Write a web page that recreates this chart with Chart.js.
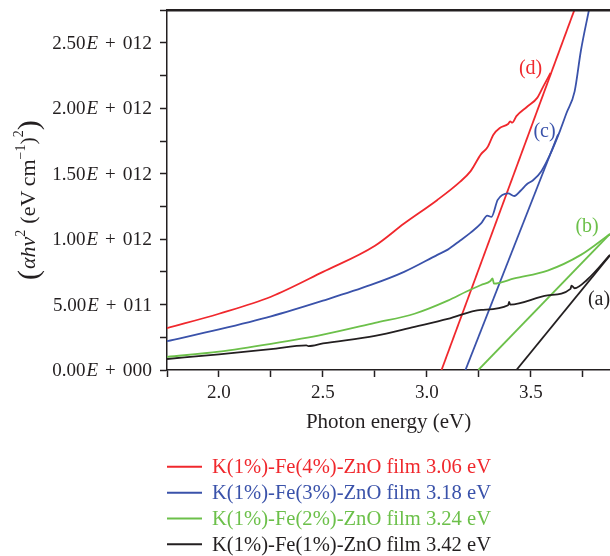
<!DOCTYPE html>
<html lang="en">
<head>
    <meta charset="UTF-8">
    <title>Photon energy plot</title>
    <script src="https://cdn.jsdelivr.net/npm/chart.js@4.4.0/dist/chart.umd.min.js"></script>
    <style>
        body {
            margin: 0;
            background: #ffffff;
        }
        .chart-box {
            position: relative;
            width: 610px;
            height: 556px;
        }
    </style>
</head>
<body>
    <div class="chart-box">
        <canvas id="gapChart"></canvas>
    </div>

    <script>
        // y values are in units of 1e12 (eV cm^-1)^2
        const energyD = [1.75, 2.0, 2.25, 2.5, 2.75, 2.89, 3.05, 3.16, 3.21, 3.26, 3.29, 3.32, 3.35, 3.39, 3.40, 3.41, 3.43, 3.48, 3.53, 3.56, 3.594];
        const valueD  = [0.32, 0.43, 0.56, 0.75, 0.95, 1.12, 1.30, 1.44, 1.52, 1.65, 1.70, 1.80, 1.85, 1.88, 1.90, 1.89, 1.94, 2.01, 2.08, 2.17, 2.27];

        const energyC = [1.75, 2.0, 2.25, 2.5, 2.73, 2.89, 3.05, 3.10, 3.16, 3.21, 3.26, 3.29, 3.31, 3.34, 3.39, 3.42, 3.45, 3.48, 3.51, 3.55, 3.59, 3.64, 3.67, 3.71, 3.74, 3.78];
        const valueC  = [0.22, 0.31, 0.41, 0.53, 0.65, 0.75, 0.88, 0.92, 0.99, 1.05, 1.12, 1.18, 1.17, 1.30, 1.35, 1.33, 1.37, 1.42, 1.45, 1.52, 1.64, 1.83, 1.96, 2.13, 2.44, 2.76];

        const energyB = [1.75, 2.0, 2.25, 2.5, 2.75, 2.94, 3.10, 3.19, 3.26, 3.305, 3.315, 3.322, 3.42, 3.58, 3.74, 3.88];
        const valueB  = [0.10, 0.14, 0.20, 0.27, 0.36, 0.43, 0.53, 0.60, 0.65, 0.68, 0.70, 0.66, 0.70, 0.76, 0.88, 1.04];

        const energyA = [1.75, 2.0, 2.25, 2.42, 2.43, 2.5, 2.75, 2.94, 3.10, 3.26, 3.39, 3.395, 3.40, 3.58, 3.69, 3.695, 3.71, 3.77, 3.88];
        const valueA  = [0.084, 0.12, 0.16, 0.188, 0.183, 0.203, 0.26, 0.33, 0.39, 0.46, 0.495, 0.52, 0.50, 0.57, 0.62, 0.645, 0.625, 0.69, 0.88];

        // linear fits (band gap extrapolation)
        const fitEnergyD = [3.07, 3.72];
        const fitValueD  = [0, 2.80];
        const fitEnergyC = [3.185, 3.63];
        const fitValueC  = [0, 1.80];
        const fitEnergyB = [3.247, 3.88];
        const fitValueB  = [0, 1.04];
        const fitEnergyA = [3.43, 3.88];
        const fitValueA  = [0, 0.877];

        const seriesNames = [
            'K(1%)-Fe(4%)-ZnO film 3.06 eV',
            'K(1%)-Fe(3%)-ZnO film 3.18 eV',
            'K(1%)-Fe(2%)-ZnO film 3.24 eV',
            'K(1%)-Fe(1%)-ZnO film 3.42 eV'
        ];
        const seriesColors = ['#f0282d', '#3a52aa', '#6cc04a', '#231f20'];
        const curveTags = ['(d)', '(c)', '(b)', '(a)'];
        const tagEnergy = [3.498, 3.565, 3.77, 3.827];
        const tagValue  = [2.30, 1.824, 1.098, 0.539];

        const yTickValues = [0, 0.5, 1.0, 1.5, 2.0, 2.5];
        const yTickLabels = ['0.00E + 000', '5.00E + 011', '1.00E + 012', '1.50E + 012', '2.00E + 012', '2.50E + 012'];
        const xTickValues = [2.0, 2.5, 3.0, 3.5];
        const xTickLabels = ['2.0', '2.5', '3.0', '3.5'];

        const SERIF = "'Liberation Serif', 'DejaVu Serif', serif";
        const INK = '#231f20';

        function pairs(xs, ys) {
            return xs.map((x, i) => ({ x: x, y: ys[i] }));
        }

        function curve(xs, ys, color) {
            return {
                data: pairs(xs, ys),
                borderColor: color,
                borderWidth: 1.8,
                pointRadius: 0,
                cubicInterpolationMode: 'monotone',
                fill: false
            };
        }

        function fitLine(xs, ys, color) {
            return {
                data: pairs(xs, ys),
                borderColor: color,
                borderWidth: 1.8,
                pointRadius: 0,
                tension: 0,
                fill: false
            };
        }

        const datasets = [
            curve(energyD, valueD, seriesColors[0]),
            curve(energyC, valueC, seriesColors[1]),
            curve(energyB, valueB, seriesColors[2]),
            curve(energyA, valueA, seriesColors[3]),
            fitLine(fitEnergyD, fitValueD, seriesColors[0]),
            fitLine(fitEnergyC, fitValueC, seriesColors[1]),
            fitLine(fitEnergyB, fitValueB, seriesColors[2]),
            fitLine(fitEnergyA, fitValueA, seriesColors[3])
        ];

        // draws text pieces one after another (for italics / superscripts)
        function drawPieces(ctx, pieces, x, y) {
            let cx = x;
            pieces.forEach(p => {
                ctx.font = p.font;
                ctx.fillText(p.text, cx, y + (p.dy || 0));
                cx += ctx.measureText(p.text).width + (p.gap || 0);
            });
            return cx;
        }

        function piecesWidth(ctx, pieces) {
            let w = 0;
            pieces.forEach(p => {
                ctx.font = p.font;
                w += ctx.measureText(p.text).width + (p.gap || 0);
            });
            return w;
        }

        const decorations = {
            id: 'decorations',
            afterDraw(chart) {
                const ctx = chart.ctx;
                const area = chart.chartArea;
                const xs = chart.scales.x;
                const ys = chart.scales.y;
                ctx.save();

                // top frame line
                ctx.strokeStyle = INK;
                ctx.lineWidth = 2.5;
                ctx.beginPath();
                ctx.moveTo(area.left - 1, area.top);
                ctx.lineTo(area.right, area.top);
                ctx.stroke();

                ctx.fillStyle = INK;
                ctx.textBaseline = 'middle';
                ctx.textAlign = 'left';

                // y tick labels with italic E
                yTickValues.forEach((v, i) => {
                    const parts = yTickLabels[i].split('E + ');
                    const pieces = [
                        { text: parts[0], font: '19px ' + SERIF, gap: 1 },
                        { text: 'E', font: 'italic 19px ' + SERIF, gap: 7 },
                        { text: '+', font: '19px ' + SERIF, gap: 7 },
                        { text: parts[1], font: '19.5px ' + SERIF }
                    ];
                    const w = piecesWidth(ctx, pieces);
                    drawPieces(ctx, pieces, area.left - 15 - w, ys.getPixelForValue(v) + 1);
                });

                // y axis title, rotated
                ctx.save();
                ctx.translate(35, 280);
                ctx.rotate(-Math.PI / 2);
                ctx.textBaseline = 'alphabetic';
                drawPieces(ctx, [
                    { text: '(', font: '30px ' + SERIF, dy: 3, gap: 1 },
                    { text: 'αhν', font: 'italic 22px ' + SERIF },
                    { text: '2', font: '14px ' + SERIF, dy: -10, gap: 6 },
                    { text: '(eV\u2009cm', font: '22px ' + SERIF },
                    { text: '\u22121', font: '14px ' + SERIF, dy: -10 },
                    { text: ')', font: '22px ' + SERIF },
                    { text: '2', font: '14px ' + SERIF, dy: -12 },
                    { text: ')', font: '30px ' + SERIF, dy: 3 }
                ], 0, 0);
                ctx.restore();

                // x axis title
                ctx.textAlign = 'center';
                ctx.textBaseline = 'alphabetic';
                ctx.font = '21px ' + SERIF;
                ctx.fillText('Photon energy (eV)', (area.left + area.right) / 2, 428);

                // curve tags
                ctx.textBaseline = 'middle';
                ctx.font = '20px ' + SERIF;
                curveTags.forEach((t, i) => {
                    ctx.fillStyle = seriesColors[i];
                    ctx.fillText(t, xs.getPixelForValue(tagEnergy[i]), ys.getPixelForValue(tagValue[i]));
                });

                // legend
                ctx.textAlign = 'left';
                ctx.font = '20.6px ' + SERIF;
                const rowY = [466.7, 492.7, 518.5, 544.3];
                seriesNames.forEach((name, i) => {
                    ctx.strokeStyle = seriesColors[i];
                    ctx.lineWidth = 2;
                    ctx.beginPath();
                    ctx.moveTo(167, rowY[i]);
                    ctx.lineTo(202, rowY[i]);
                    ctx.stroke();
                    ctx.fillStyle = seriesColors[i];
                    ctx.fillText(name, 212, rowY[i] + 1);
                });

                ctx.restore();
            }
        };

        new Chart(document.getElementById('gapChart'), {
            type: 'line',
            data: { datasets: datasets },
            options: {
                responsive: true,
                maintainAspectRatio: false,
                animation: false,
                layout: { padding: { top: 9, right: 0, left: 0, bottom: 0 } },
                plugins: {
                    legend: { display: false },
                    tooltip: { enabled: false }
                },
                scales: {
                    x: {
                        type: 'linear',
                        min: 1.75,
                        max: 3.88,
                        afterFit(scale) { scale.height = 186; },
                        border: { color: INK, width: 1.5 },
                        grid: {
                            drawOnChartArea: false,
                            tickLength: 7,
                            tickColor: INK,
                            tickWidth: 1.5
                        },
                        ticks: {
                            stepSize: 0.25,
                            includeBounds: false,
                            autoSkip: false,
                            maxRotation: 0,
                            padding: 5,
                            color: INK,
                            font: { family: SERIF, size: 19 },
                            callback(value) {
                                const i = xTickValues.findIndex(v => Math.abs(v - value) < 1e-6);
                                return i >= 0 ? xTickLabels[i] : '';
                            }
                        }
                    },
                    y: {
                        min: 0,
                        max: 2.75,
                        afterFit(scale) { scale.width = 167; },
                        border: { color: INK, width: 1.5 },
                        grid: {
                            drawOnChartArea: false,
                            tickLength: 7,
                            tickColor: INK,
                            tickWidth: 1.5
                        },
                        ticks: {
                            stepSize: 0.25,
                            autoSkip: false,
                            color: 'rgba(0,0,0,0)',
                            callback() { return ''; }
                        }
                    }
                }
            },
            plugins: [decorations]
        });
    </script>
</body>
</html>
